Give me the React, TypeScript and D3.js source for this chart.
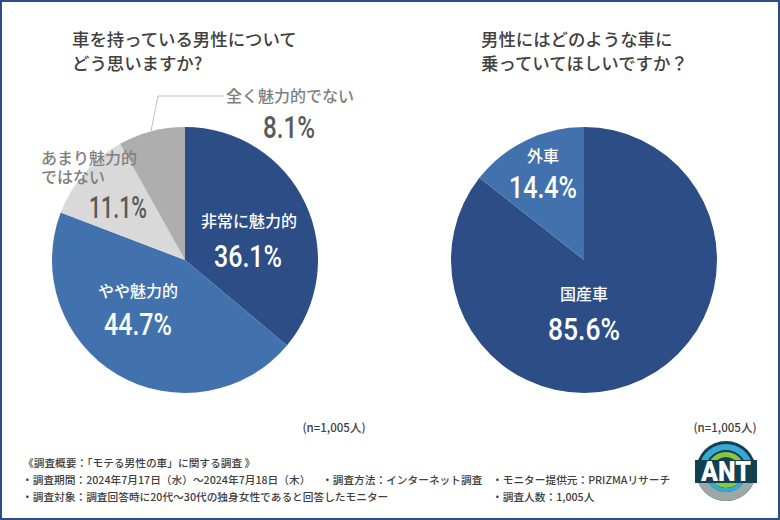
import React from "react";
import * as d3 from "d3";

const leftCats = ["非常に魅力的", "やや魅力的", "あまり魅力的ではない", "全く魅力的でない"];
const leftValues = [36.1, 44.7, 11.1, 8.1];
const leftColors = ["#2c4d85", "#4272ad", "#d9d9d9", "#aeaeae"];
const rightCats = ["国産車", "外車"];
const rightValues = [85.6, 14.4];
const rightColors = ["#2c4d85", "#4272ad"];
const titleLeft = ["車を持っている男性について", "どう思いますか?"];
const titleRight = ["男性にはどのような車に", "乗っていてほしいですか？"];
const wrappedCat = ["あまり魅力的", "ではない"];
const footer = [
  { x: 23, y: 467, t: "《調査概要：「モテる男性の車」に関する調査 》" },
  { x: 22, y: 484, t: "・調査期間：2024年7月17日（水）～2024年7月18日（木）" },
  { x: 322, y: 484, t: "・調査方法：インターネット調査" },
  { x: 22, y: 501, t: "・調査対象：調査回答時に20代～30代の独身女性であると回答したモニター" },
  { x: 492, y: 484, t: "・モニター提供元：PRIZMAリサーチ" },
  { x: 492, y: 501, t: "・調査人数：1,005人" },
];

const JP = "'Noto Sans CJK JP', sans-serif";
const R = 133;
const pie = d3.pie<number>().sort(null);
const arc = d3.arc<d3.PieArcDatum<number>>().innerRadius(0).outerRadius(R);

function Pie({ cx, values, colors }: { cx: number; values: number[]; colors: string[] }) {
  return (
    <g transform={`translate(${cx},260)`}>
      {pie(values).map((d, i) => (
        <path key={i} d={arc(d) as string} fill={colors[i]} />
      ))}
    </g>
  );
}

function Label({ x, y, text, size = 16, fill = "#fff" }: any) {
  return (
    <text x={x} y={y} textAnchor="middle" fontFamily={JP} fontWeight={500} fontSize={size} fill={fill}>
      {text}
    </text>
  );
}

function Pct({ x, y, v, fill = "#fff", w = 68 }: any) {
  return (
    <text x={x} y={y} textAnchor="middle" fontFamily="Roboto, sans-serif" fontWeight={500} fontSize={32} fill={fill} textLength={w} lengthAdjust="spacingAndGlyphs">
      {`${v.toFixed(1)}%`}
    </text>
  );
}

function Logo() {
  const ring = (r0: number, r1: number, a0: number, a1: number) =>
    d3.arc()({ innerRadius: r0, outerRadius: r1, startAngle: a0, endAngle: a1 }) as string;
  const h = Math.PI / 2;
  return (
    <g transform="translate(726,471)">
      <circle r={30} fill="#11414f" />
      <path d={ring(21, 27, -h + 0.2, h - 0.2)} fill="#37a9d6" />
      <path d={ring(14, 19, -h + 0.3, h - 0.3)} fill="#8cc63f" />
      <path d={ring(21, 30, h + 0.2, 3 * h - 0.2)} fill="#9aa9a8" />
      <path d={ring(17, 21, h + 0.3, 3 * h - 0.3)} fill="#37a9d6" />
      <path d={ring(12, 17, h + 0.4, 3 * h - 0.4)} fill="#8cc63f" />
      <rect x={-31} y={-11} width={62} height={23} fill="#11414f" />
      <text y={10} textAnchor="middle" fontFamily="Roboto, sans-serif" fontWeight={900} fontSize={27} fill="#fff" textLength={50} lengthAdjust="spacingAndGlyphs">ANT</text>
    </g>
  );
}

export default function App() {
  return (
    <svg width={780} height={520} viewBox="0 0 780 520" style={{ position: "absolute", left: 0, top: 0, background: "#fff" }}>
      <rect x={1} y={1} width={778} height={518} fill="#fff" stroke="#2c4d85" strokeWidth={2} />
      {titleLeft.map((t, i) => (
        <text key={t} x={72} y={46 + i * 24} fontFamily={JP} fontWeight={500} fontSize={17.4} fill="#404040">{t}</text>
      ))}
      {titleRight.map((t, i) => (
        <text key={t} x={481} y={46 + i * 24} fontFamily={JP} fontWeight={500} fontSize={17.4} fill="#404040">{t}</text>
      ))}
      <Pie cx={185} values={leftValues} colors={leftColors} />
      <Pie cx={584} values={rightValues} colors={rightColors} />
      <polyline points="151,131 158,96 224,96" fill="none" stroke="#bfbfbf" strokeWidth={1} />

      <Label x={249} y={227} text={leftCats[0]} />
      <Pct x={248} y={267} v={leftValues[0]} />
      <Label x={138} y={297} text={leftCats[1]} />
      <Pct x={138} y={335} v={leftValues[1]} />
      <text fontFamily={JP} fontWeight={500} fontSize={16} fill="#7f7f7f">
        <tspan x={41} y={164}>{wrappedCat[0]}</tspan>
        <tspan x={41} y={183}>{wrappedCat[1]}</tspan>
      </text>
      <Pct x={118} y={218} v={leftValues[2]} fill="#595959" w={58} />
      <Label x={290} y={102} text={leftCats[3]} fill="#7f7f7f" />
      <Pct x={289} y={138} v={leftValues[3]} fill="#595959" w={52} />

      <Label x={584} y={300} text={rightCats[0]} />
      <Pct x={584} y={340} v={rightValues[0]} w={72} />
      <Label x={543} y={162} text={rightCats[1]} />
      <Pct x={543} y={198} v={rightValues[1]} />

      <text x={334} y={432} textAnchor="middle" fontFamily={JP} fontWeight={500} fontSize={11.5} fill="#404040">(n=1,005人)</text>
      <text x={725} y={432} textAnchor="middle" fontFamily={JP} fontWeight={500} fontSize={11.5} fill="#404040">(n=1,005人)</text>
      {footer.map((f) => (
        <text key={f.t} x={f.x} y={f.y} fontFamily={JP} fontWeight={500} fontSize={10.7} fill="#404040">{f.t}</text>
      ))}
      <Logo />
    </svg>
  );
}
